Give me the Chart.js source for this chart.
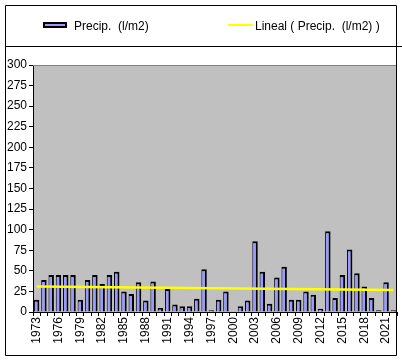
<!DOCTYPE html>
<html>
<head>
<meta charset="utf-8">
<script src="https://cdn.jsdelivr.net/npm/chart.js@4"></script>
<style>
  html, body { margin: 0; padding: 0; background: #fff; }
  #wrap { width: 402px; height: 361px; position: relative; }
</style>
</head>
<body>
<div id="wrap"><canvas id="precipChart"></canvas></div>
<script>
const years = [];
for (let y = 1973; y <= 2022; y++) years.push(String(y));

const precip = [15, 39, 45, 45, 45, 45, 15, 39, 45, 34,
                45, 49, 25, 22, 36, 14, 37, 5, 28, 9,
                7, 7, 16, 52, 2, 15, 25, 0, 7, 14,
                86, 49, 10, 42, 55, 15, 15, 25, 21, 4,
                98, 17, 45, 76, 47, 31, 17, 2, 36, 2];

// trend line read at its two ends
const trendStart = 31;
const trendEnd = 26.6;
const trend = years.map((y, i) => i === 0 ? trendStart : (i === years.length - 1 ? trendEnd : null));

const yTicks = [0, 25, 50, 75, 100, 125, 150, 175, 200, 225, 250, 275, 300];

const legendLabels = ['Precip.  (l/m2)', 'Lineal ( Precip.  (l/m2) )'];

const axisFont = { family: '"Liberation Sans", Arial, sans-serif', size: 12 };

const framePlugin = {
    id: 'frame',
    beforeDraw(chart) {
        const { ctx, chartArea: a } = chart;
        ctx.save();
        ctx.fillStyle = '#C0C0C0';
        ctx.fillRect(a.left, a.top, a.right - a.left, a.bottom - a.top);
        ctx.restore();
    },
    afterDraw(chart) {
        const { ctx, chartArea: a } = chart;
        ctx.save();
        // plot top edge
        ctx.strokeStyle = '#808080';
        ctx.lineWidth = 1;
        ctx.beginPath();
        ctx.moveTo(a.left, a.top + 0.5);
        ctx.lineTo(a.right, a.top + 0.5);
        ctx.stroke();

        // outer frame
        ctx.strokeStyle = '#000';
        ctx.beginPath();
        ctx.moveTo(5.5, 5.5); ctx.lineTo(396.5, 5.5);
        ctx.moveTo(5.5, 5.5); ctx.lineTo(5.5, 355.5);
        ctx.moveTo(5.5, 355.5); ctx.lineTo(396.5, 355.5);
        ctx.moveTo(396.5, 5.5); ctx.lineTo(396.5, 355.5);
        ctx.moveTo(5.5, 46.5); ctx.lineTo(402, 46.5);
        ctx.stroke();

        // legend
        ctx.fillStyle = '#9999FF';
        ctx.fillRect(43, 22, 24, 6);
        ctx.lineWidth = 2;
        ctx.strokeRect(44, 23, 22, 4);
        ctx.strokeStyle = '#FFFF00';
        ctx.lineWidth = 2;
        ctx.beginPath();
        ctx.moveTo(228, 25); ctx.lineTo(253, 25);
        ctx.stroke();

        ctx.fillStyle = '#000';
        ctx.font = '12px "Liberation Sans", Arial, sans-serif';
        ctx.textBaseline = 'alphabetic';
        ctx.fillText(legendLabels[0], 74, 30);
        ctx.fillText(legendLabels[1], 255, 30);
        ctx.restore();
    }
};

const ctx = document.getElementById('precipChart').getContext('2d');
new Chart(ctx, {
    type: 'bar',
    data: {
        labels: years,
        datasets: [{
            type: 'line',
            label: legendLabels[1],
            data: trend,
            borderColor: '#FFFF00',
            borderWidth: 2.5,
            pointRadius: 0,
            spanGaps: true,
            order: 0
        }, {
            label: legendLabels[0],
            data: precip,
            backgroundColor: '#9999FF',
            borderColor: '#000',
            borderWidth: { left: 1, right: 2, top: 2, bottom: 0 },
            borderSkipped: false,
            barPercentage: 0.75,
            categoryPercentage: 1,
            order: 1
        }]
    },
    options: {
        responsive: true,
        maintainAspectRatio: false,
        animation: false,
        layout: { padding: { left: 0, right: 5, top: 65, bottom: 0 } },
        plugins: {
            legend: { display: false },
            tooltip: { enabled: false }
        },
        scales: {
            x: {
                afterFit(scale) {
                    scale.height = 49;
                    scale.paddingLeft = 0;
                    scale.paddingRight = 0;
                },
                grid: {
                    offset: true,
                    drawOnChartArea: false,
                    drawTicks: true,
                    tickLength: 4,
                    color: '#000'
                },
                border: { display: true, color: '#000', width: 1 },
                ticks: {
                    autoSkip: false,
                    maxRotation: 90,
                    minRotation: 90,
                    padding: 1,
                    color: '#000',
                    font: axisFont,
                    callback: function(value, index) {
                        return index % 3 === 0 ? this.getLabelForValue(value) : '';
                    }
                }
            },
            y: {
                min: 0,
                max: 300,
                afterFit(scale) {
                    scale.width = 33;
                    scale.paddingTop = 0;
                    scale.paddingBottom = 0;
                },
                afterBuildTicks(scale) { scale.ticks = yTicks.map(v => ({ value: v })); },
                grid: {
                    drawOnChartArea: false,
                    drawTicks: true,
                    tickLength: 4,
                    color: '#000'
                },
                border: { display: true, color: '#000', width: 1 },
                ticks: {
                    padding: 2,
                    color: '#000',
                    font: axisFont
                }
            }
        }
    },
    plugins: [framePlugin]
});
</script>
</body>
</html>
